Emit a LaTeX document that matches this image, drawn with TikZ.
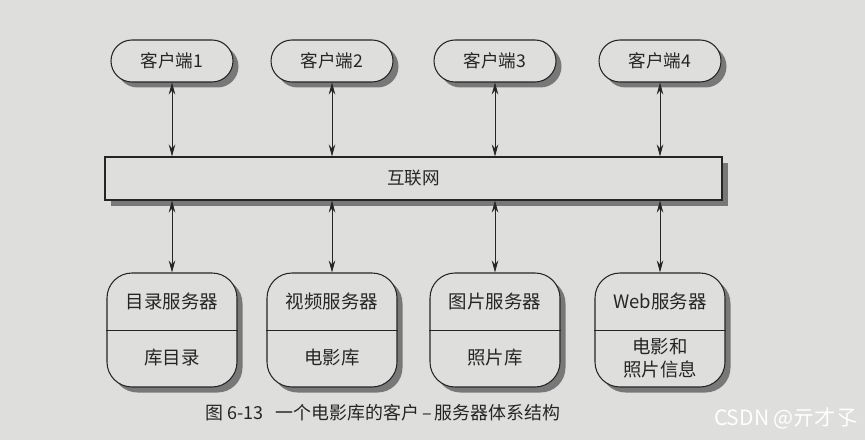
\documentclass[tikz,border=0pt]{standalone}
\usepackage{fontspec}
\setmainfont{Noto Sans CJK SC}
\usetikzlibrary{arrows.meta, shadows}
\definecolor{paper}{HTML}{DEDEDC}
\definecolor{ink}{HTML}{252525}
\definecolor{shade}{HTML}{6E6E6E}

\begin{document}
\begin{tikzpicture}[font=\fontsize{10}{12.5}\selectfont, color=ink,
          box/.style={draw=ink, fill=paper, line width=.6pt, drop shadow={shadow xshift=.11cm, shadow yshift=-.11cm, fill=shade, opacity=.9}},
          cli/.style={box, rounded corners=.42cm, minimum width=2.44cm, minimum height=.84cm},
          net/.style={box, minimum width=12.34cm, minimum height=.86cm},
          srv/.style={box, rounded corners=.5cm, minimum width=2.6cm, minimum height=2.28cm},
          txt/.style={align=center, inner sep=1pt, font=\fontsize{10.5}{13}\selectfont},
          link/.style={{Stealth[length=2.4mm,width=1.3mm]}-{Stealth[length=2.4mm,width=1.3mm]}, ink, line width=.45pt}]
          \useasboundingbox (0,0) rectangle (17.3,8.8);
          \fill[paper] (0,0) rectangle (17.3,8.8);
          % clients
          \node[cli] (c1) at (3.44,7.58) {客户端1};
          \node[cli] (c2) at (6.64,7.58) {客户端2};
          \node[cli] (c3) at (9.90,7.58) {客户端3};
          \node[cli] (c4) at (13.20,7.58) {客户端4};
          % internet
          \node[net] (web) at (8.27,5.23) {互联网};
          % servers
          \node[srv] (s1) at (3.44,2.2) {}; \node[srv] (s2) at (6.64,2.2) {};
          \node[srv] (s3) at (9.90,2.2) {}; \node[srv] (s4) at (13.20,2.2) {};
          \draw (s1.west) -- (s1.east); \draw (s2.west) -- (s2.east); \draw (s3.west) -- (s3.east); \draw (s4.west) -- (s4.east);
          \node[txt] (s1a) at (3.44,2.77) {目录服务器}; \node[txt] (s1b) at (3.44,1.64) {库目录};
          \node[txt] (s2a) at (6.64,2.77) {视频服务器}; \node[txt] (s2b) at (6.64,1.64) {电影库};
          \node[txt] (s3a) at (9.90,2.77) {图片服务器}; \node[txt] (s3b) at (9.90,1.64) {照片库};
          \node[txt] (s4a) at (13.20,2.77) {Web服务器}; \node[txt] (s4b) at (13.20,1.64) {电影和\\照片信息};
          % links
          \draw[link] (c1.south) -- (c1.south |- web.north); \draw[link] (c2.south) -- (c2.south |- web.north);
          \draw[link] (c3.south) -- (c3.south |- web.north); \draw[link] (c4.south) -- (c4.south |- web.north);
          \draw[link] (s1.north |- web.south) -- (s1.north); \draw[link] (s2.north |- web.south) -- (s2.north);
          \draw[link] (s3.north |- web.south) -- (s3.north); \draw[link] (s4.north |- web.south) -- (s4.north);
          % caption
          \node[anchor=west, inner sep=0pt, font=\fontsize{10.2}{12}\selectfont] (cap) at (4.1,.54) {图 6-13\hspace{.7em}一个电影库的客户\,–\,服务器体系结构};
          \node[anchor=east, inner sep=0pt, font=\fontsize{12}{14}\selectfont, color=white] (mark) at (17.15,.44) {CSDN @亓才孓};
        \end{tikzpicture}
\end{document}
